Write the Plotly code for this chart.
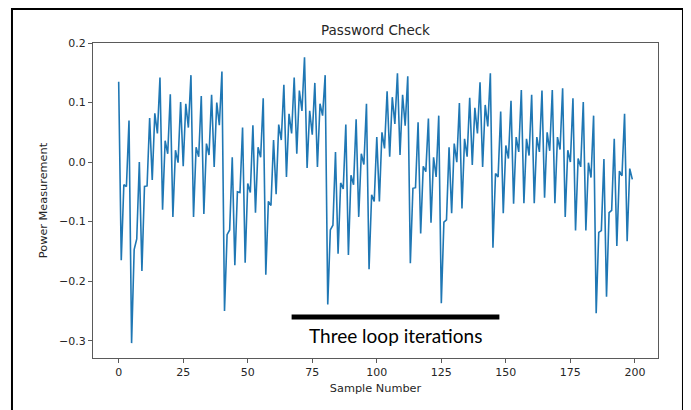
import plotly.graph_objects as go

# ---- data ----
sample_number = list(range(200))
power = [
    0.135, -0.165, -0.038, -0.041, 0.070, -0.304, -0.147, -0.129, 0.000, -0.183,
    -0.041, -0.040, 0.074, -0.030, 0.082, 0.048, 0.142, -0.080, 0.036, 0.014,
    0.114, -0.092, 0.020, -0.001, 0.101, -0.007, 0.098, 0.058, 0.146, -0.092,
    0.025, 0.009, 0.111, -0.087, 0.031, 0.012, 0.113, -0.008, 0.100, 0.062,
    0.152, -0.250, -0.122, -0.114, 0.008, -0.173, -0.050, -0.051, 0.058, -0.169,
    -0.036, -0.051, 0.062, -0.085, 0.025, 0.008, 0.107, -0.189, -0.066, -0.073,
    0.037, -0.054, 0.063, 0.037, 0.130, -0.025, 0.081, 0.048, 0.142, 0.014,
    0.120, 0.086, 0.176, -0.010, 0.086, 0.046, 0.133, -0.008, 0.098, 0.078,
    0.146, -0.239, -0.114, -0.106, 0.017, -0.154, -0.035, -0.045, 0.063, -0.156,
    -0.022, -0.038, 0.072, -0.092, 0.014, -0.004, 0.098, -0.180, -0.055, -0.066,
    0.042, -0.066, 0.050, 0.023, 0.119, 0.009, 0.109, 0.064, 0.149, 0.012,
    0.113, 0.061, 0.144, -0.170, -0.044, -0.043, 0.067, -0.120, -0.007, -0.016,
    0.073, -0.102, 0.008, -0.025, 0.078, -0.237, -0.101, -0.097, 0.025, -0.086,
    0.031, 0.000, 0.099, -0.078, 0.039, 0.009, 0.108, -0.005, 0.091, 0.048,
    0.134, -0.008, 0.096, 0.060, 0.149, -0.144, -0.019, -0.025, 0.085, -0.086,
    0.028, 0.006, 0.103, -0.070, 0.042, 0.017, 0.121, -0.069, 0.039, 0.011,
    0.113, -0.069, 0.042, 0.017, 0.120, -0.060, 0.050, 0.019, 0.121, -0.069,
    0.042, 0.021, 0.124, -0.092, 0.020, 0.000, 0.107, -0.115, 0.006, -0.008,
    0.101, -0.115, -0.001, -0.026, 0.078, -0.254, -0.118, -0.115, 0.005, -0.226,
    -0.085, -0.081, 0.039, -0.141, -0.015, -0.023, 0.081, -0.133, -0.011, -0.029,
]
x_tick_vals = [0, 25, 50, 75, 100, 125, 150, 175, 200]
x_tick_text = ["0", "25", "50", "75", "100", "125", "150", "175", "200"]
y_tick_vals = [0.2, 0.1, 0.0, -0.1, -0.2, -0.3]
y_tick_text = ["0.2", "0.1", "0.0", "\u22120.1", "\u22120.2", "\u22120.3"]

title_text = "Password Check"
x_title = "Sample Number"
y_title = "Power Measurement"
note_text = "Three loop iterations"
note_span = [67, 147.5]   # samples covered by the bracket bar
note_level = -0.260

FONT = "DejaVu Sans"
TXT = "#262626"
SPINE = "#5a5a5a"

fig = go.Figure()
fig.add_trace(go.Scatter(
    x=sample_number, y=power, mode="lines",
    line=dict(color="#1f77b4", width=1.6),
    showlegend=False, hoverinfo="skip",
))

axis_common = dict(
    showgrid=False, zeroline=False, showline=True, mirror=True,
    linecolor=SPINE, linewidth=1, ticks="outside", ticklen=4,
    tickcolor=SPINE, tickwidth=1,
    tickfont=dict(family=FONT, size=11, color=TXT),
)

fig.update_xaxes(
    range=[-9.95, 208.95], tickvals=x_tick_vals, ticktext=x_tick_text,
    title=dict(text=x_title, font=dict(family=FONT, size=11.3, color=TXT), standoff=5),
    **axis_common,
)
fig.update_yaxes(
    range=[-0.329, 0.2], tickvals=y_tick_vals, ticktext=y_tick_text,
    title=dict(text=y_title, font=dict(family=FONT, size=11.3, color=TXT), standoff=9),
    **axis_common,
)

# black bar marking three loop iterations
fig.add_shape(type="line", xref="x", yref="y",
              x0=note_span[0], x1=note_span[1], y0=note_level, y1=note_level,
              line=dict(color="black", width=5))
fig.add_annotation(x=(note_span[0] + note_span[1]) / 2, y=note_level, xref="x", yref="y",
                   text=note_text, showarrow=False, yanchor="top", yshift=-5,
                   font=dict(family="Lato", size=19, color="black"))

# outer frame of the original figure
fig.add_shape(type="rect", xref="paper", yref="paper",
              x0=-0.1434, x1=1.0442, y0=-0.25, y1=1.108,
              line=dict(color="black", width=2), fillcolor="rgba(0,0,0,0)", layer="above")

# page body adds an 8px offset; size the figure so it fills the 691x410 window
fig.update_layout(
    width=683, height=402,
    margin=dict(l=85, r=33, t=35, b=52),
    paper_bgcolor="white", plot_bgcolor="white",
    title=dict(text=title_text, x=0.5, xanchor="center", y=1 - 22 / 402, yanchor="middle",
               xref="paper", font=dict(family=FONT, size=13.5, color=TXT)),
)

fig.write_html("out.html")
